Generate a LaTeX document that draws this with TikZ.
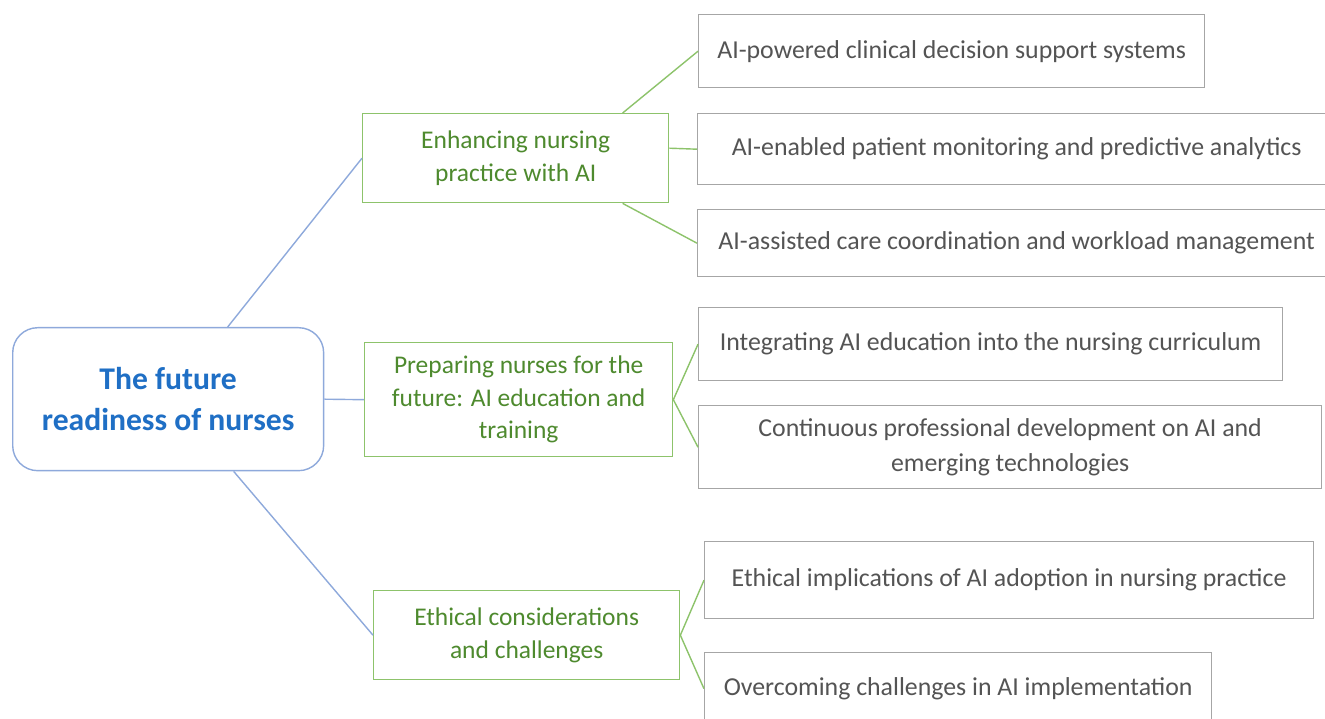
\documentclass[tikz,border=0pt]{standalone}
\usepackage{fontspec}
\setmainfont{Carlito}
\usepackage{xcolor}
\definecolor{rootblue}{HTML}{1F6FC5}
\definecolor{rootline}{HTML}{8EA9DB}
\definecolor{topicgreen}{HTML}{4E8A2E}
\definecolor{topicline}{HTML}{8DC36B}
\definecolor{leafline}{HTML}{A6A6A6}
\definecolor{leaftext}{HTML}{545454}
\usetikzlibrary{positioning}

\begin{document}
\begin{tikzpicture}[x=0.02cm, y=-0.02cm, line width=0.8pt,
    root/.style={
    	rectangle, anchor=north west, rounded corners=5mm, draw=rootline,
    	fill=white, align=center, text=rootblue, inner sep=0pt,
    	font=\fontsize{18}{23}\selectfont\bfseries},
    topic/.style={
    	rectangle, anchor=north west, draw=topicline, fill=white,
    	align=center, text=topicgreen, inner sep=0pt,
    	font=\fontsize{14.5}{18.5}\selectfont},
    leaf/.style={
    	rectangle, anchor=north west, draw=leafline, fill=white,
    	align=center, text=leaftext, inner sep=0pt,
    	font=\fontsize{14.7}{19.5}\selectfont},
    bluelink/.style={draw=rootline},
    greenlink/.style={draw=topicline}]
	\clip (0,0) rectangle (1325,719);
	% main topic
	\node (R) [root, minimum width=6.22cm, minimum height=2.86cm] at (12,327) {The future\\readiness of nurses};
	% three branches
	\node (A) [topic, minimum width=6.12cm, minimum height=1.78cm] at (362,113) {Enhancing nursing\\practice with AI};
	\node (B) [topic, minimum width=6.16cm, minimum height=2.28cm] at (364,342) {Preparing nurses for the\\future: AI education and\\training};
	\node (C) [topic, minimum width=6.12cm, minimum height=1.78cm] at (373,590) {Ethical considerations\\and challenges};
	% leaves
	\node (AA) [leaf, minimum width=10.12cm, minimum height=1.46cm] at (698,14) {AI-powered clinical decision support systems};
	\node (AB) [leaf, minimum width=12.76cm, minimum height=1.42cm] at (697,113) {AI-enabled patient monitoring and predictive analytics};
	\node (AC) [leaf, minimum width=12.76cm, minimum height=1.34cm] at (697,209) {AI-assisted care coordination and workload management};
	\node (BA) [leaf, minimum width=11.68cm, minimum height=1.46cm] at (698,307) {Integrating AI education into the nursing curriculum};
	\node (BB) [leaf, minimum width=12.46cm, minimum height=1.66cm] at (698,405) {Continuous professional development on AI and\\emerging technologies};
	\node (CA) [leaf, minimum width=12.18cm, minimum height=1.54cm] at (704,541) {Ethical implications of AI adoption in nursing practice};
	\node (CB) [leaf, minimum width=10.14cm, minimum height=1.44cm] at (704,652) {Overcoming challenges in AI implementation};
	% connectors
	\draw [bluelink] ([xshift=1.19cm]R.north) -- (A.west);
	\draw [bluelink] (R.east) -- (B.west);
	\draw [bluelink] ([xshift=1.31cm]R.south) -- (C.west);
	\draw [greenlink] ([xshift=2.14cm]A.north) -- (AA.west);
	\draw [greenlink] ([yshift=0.2cm]A.east) -- (AB.west);
	\draw [greenlink] ([xshift=2.14cm]A.south) -- (AC.west);
	\draw [greenlink] (B.east) -- (BA.west);
	\draw [greenlink] (B.east) -- (BB.west);
	\draw [greenlink] (C.east) -- (CA.west);
	\draw [greenlink] (C.east) -- (CB.west);
\end{tikzpicture}
\end{document}
